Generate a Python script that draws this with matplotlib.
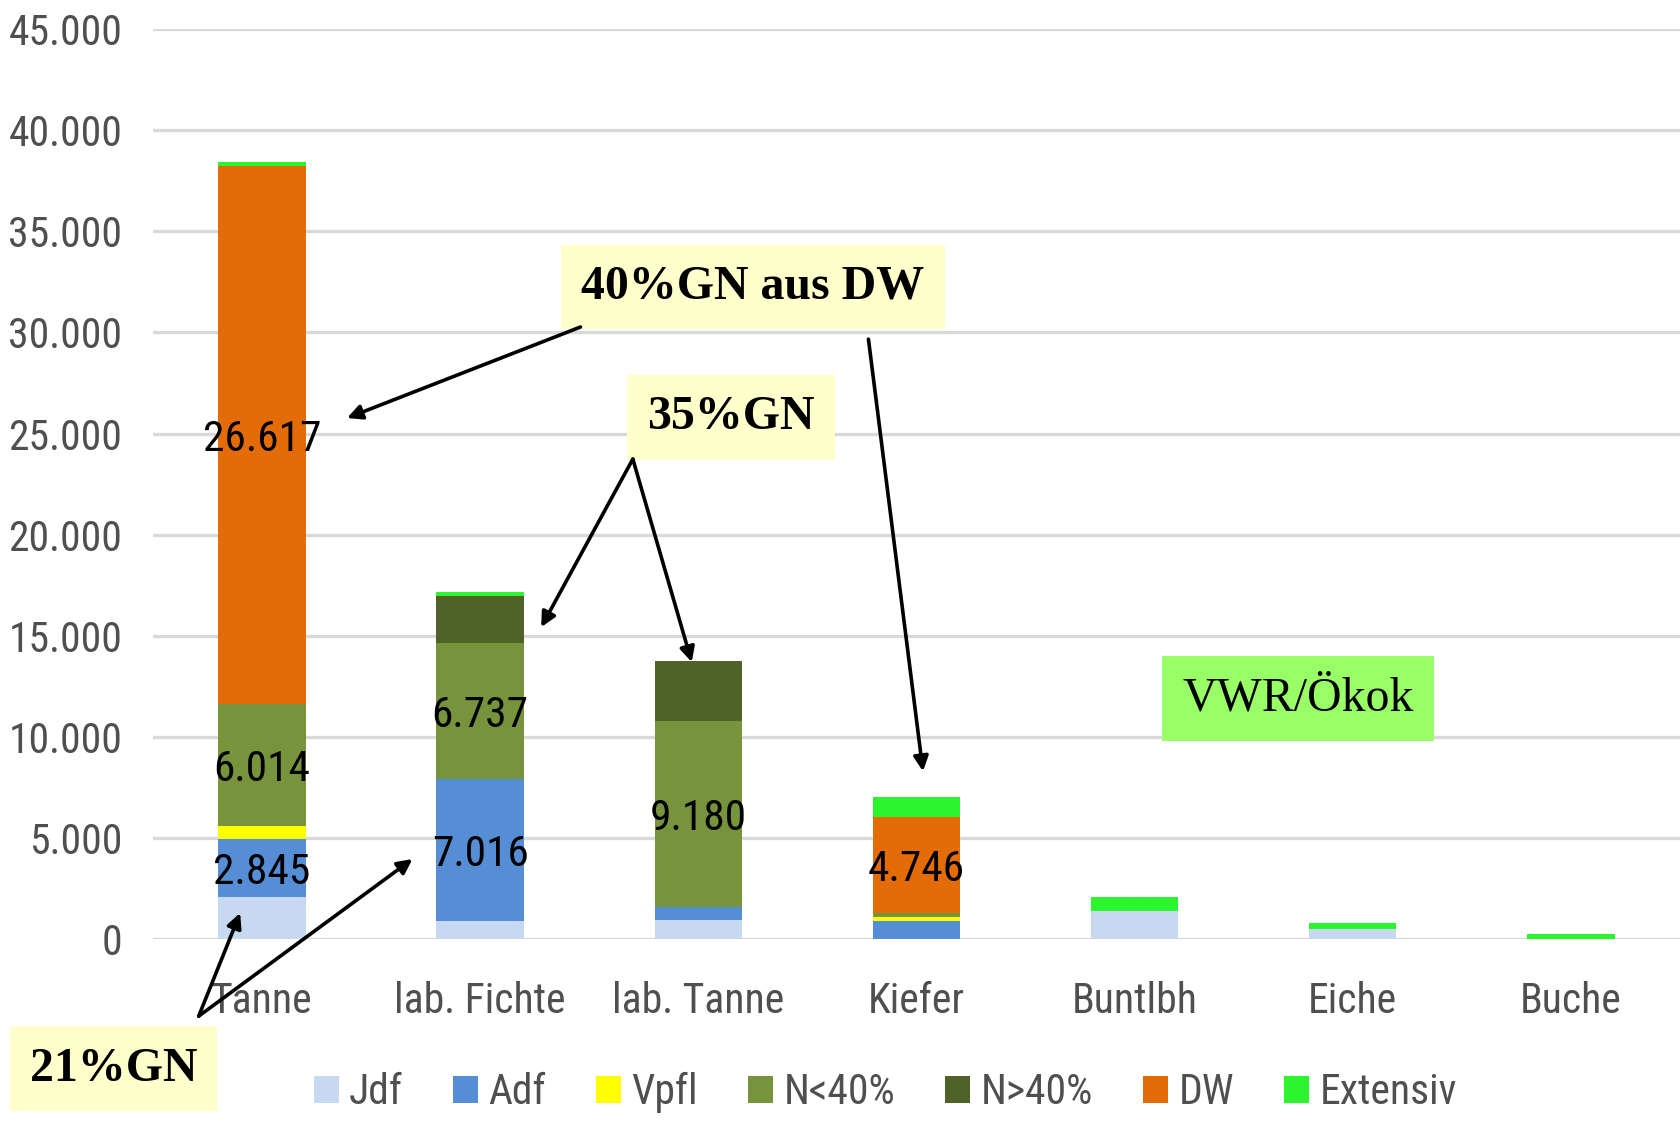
import numpy as np
import matplotlib.pyplot as plt
from matplotlib import font_manager
from matplotlib.patches import Patch

# ---------------------------------------------------------
# DATEN
# ---------------------------------------------------------

categories = ["Tanne", "lab. Fichte", "lab. Tanne", "Kiefer", "Buntlbh", "Eiche", "Buche"]

series_names = ["Jdf", "Adf", "Vpfl", "N<40%", "N>40%", "DW", "Extensiv"]
jdf = [2100, 900, 940, 0, 1410, 510, 0]
adf = [2845, 7016, 670, 900, 0, 0, 0]
vpfl = [650, 0, 0, 200, 0, 0, 0]
n_lt40 = [6014, 6737, 9180, 190, 0, 0, 0]
n_gt40 = [0, 2310, 2950, 0, 0, 0, 0]
dw = [26617, 0, 0, 4746, 0, 0, 0]
extensiv = [200, 200, 0, 1000, 690, 270, 250]

colors = ["#C6D9F0", "#558ED5", "#FFFF00", "#77933C", "#4F6228", "#E36C09", "#2CF530"]

# Segmente mit Datenbeschriftung: (Kategorie-Index, Serien-Index)
labelled = [(0, 1), (0, 3), (0, 5), (1, 1), (1, 3), (2, 3), (3, 5)]

yticks = np.arange(0, 45001, 5000)

# ---------------------------------------------------------
# SCHRIFT (schmale Schrift, falls vorhanden)
# ---------------------------------------------------------

fonts = {(f.name, f.stretch) for f in font_manager.fontManager.ttflist}
names = {f.name for f in font_manager.fontManager.ttflist}

narrow_kw = None
for cand in ["Liberation Sans Narrow", "Roboto Condensed", "Open Sans Condensed", "Arial Narrow"]:
    if cand in names:
        narrow_kw = dict(family=cand)
        scale = 1.0
        break
if narrow_kw is None:
    cond = [n for (n, s) in fonts if s in ("condensed", "semi-condensed", 600, 700) and n in ("DejaVu Sans", "Roboto", "Open Sans", "Noto Sans")]
    if cond:
        narrow_kw = dict(family=cond[0], stretch="condensed")
        scale = 0.9
    else:
        narrow_kw = dict(family="Roboto")
        scale = 0.84

serif = ["Liberation Serif", "DejaVu Serif"]
FS = 30 * scale


def de_fmt(v):
    return f"{v:,.0f}".replace(",", ".")


# ---------------------------------------------------------
# PLOT
# ---------------------------------------------------------

fig = plt.figure(figsize=(16.8, 11.22), dpi=100)
ax = fig.add_axes([0.091, 0.163, 0.909, 0.811])

series = [jdf, adf, vpfl, n_lt40, n_gt40, dw, extensiv]
x = np.arange(len(categories))
bottom = np.zeros(len(categories))
bottoms = []
for vals, col, name in zip(series, colors, series_names):
    vals = np.array(vals, dtype=float)
    ax.bar(x, vals, width=0.4, bottom=bottom, color=col, label=name, zorder=3)
    bottoms.append(bottom.copy())
    bottom = bottom + vals

for ci, si in labelled:
    v = series[si][ci]
    ax.text(
        x[ci], bottoms[si][ci] + v / 2, de_fmt(v),
        ha="center", va="center_baseline", fontsize=FS * 1.04,
        color="black", zorder=5, **narrow_kw,
    )

ax.set_xlim(-0.5, len(categories) - 0.5)
ax.set_ylim(0, 45000)
ax.set_yticks(yticks)
ax.set_yticklabels([de_fmt(v) for v in yticks], fontsize=FS, color="#4F4F4F", **narrow_kw)
ax.set_xticks(x)
ax.set_xticklabels(categories, fontsize=FS, color="#4F4F4F", **narrow_kw)
ax.tick_params(axis="x", length=0, pad=30)
ax.tick_params(axis="y", length=0, pad=22)
ax.grid(axis="y", color="#D9D9D9", lw=2.4, zorder=0)
ax.set_axisbelow(True)
for s in ax.spines.values():
    s.set_visible(False)

# ---------------------------------------------------------
# ANMERKUNGEN
# ---------------------------------------------------------

box_yellow = dict(boxstyle="square,pad=0.42", fc="#FFFFCC", ec="none")
box_green = dict(boxstyle="square,pad=0.42", fc="#99FF66", ec="none")
arrow = dict(arrowstyle="-|>", lw=2.6, color="black", mutation_scale=22, shrinkA=0, shrinkB=0)

ax.text(2.25, 32250, "40%GN aus DW", ha="center", va="center", fontsize=34.5,
        fontweight="bold", family=serif, bbox=box_yellow, zorder=6)
ax.text(2.15, 25800, "35%GN", ha="center", va="center", fontsize=34.5,
        fontweight="bold", family=serif, bbox=box_yellow, zorder=6)
ax.text(-0.68, -6400, "21%GN", ha="center", va="center", fontsize=34.5,
        fontweight="bold", family=serif, bbox=box_yellow, zorder=6, clip_on=False)
ax.text(4.75, 11900, "VWR/Ökok", ha="center", va="center", fontsize=34.5,
        family=serif, bbox=box_green, zorder=6)

arrows = [
    ((1.46, 30270), (0.39, 25770)),
    ((2.78, 29670), (3.03, 8300)),
    ((1.70, 23740), (1.28, 15430)),
    ((1.70, 23740), (1.97, 13700)),
    ((-0.29, -3810), (-0.10, 1290)),
    ((-0.29, -3810), (0.69, 3960)),
]
for start, end in arrows:
    ax.annotate("", xy=end, xytext=start, arrowprops=arrow, annotation_clip=False, zorder=7)

# ---------------------------------------------------------
# LEGENDE
# ---------------------------------------------------------

leg_prop = font_manager.FontProperties(size=FS, **narrow_kw)
handles = [Patch(facecolor=c, edgecolor="none") for c in colors]
leg = fig.legend(
    handles, series_names, loc="center", bbox_to_anchor=(0.527, 0.026),
    ncol=7, frameon=False, prop=leg_prop,
    handlelength=0.6, handleheight=0.6, handletextpad=0.25, columnspacing=1.2,
)
for t in leg.get_texts():
    t.set_color("#4F4F4F")

plt.savefig("out.png", dpi=100)
